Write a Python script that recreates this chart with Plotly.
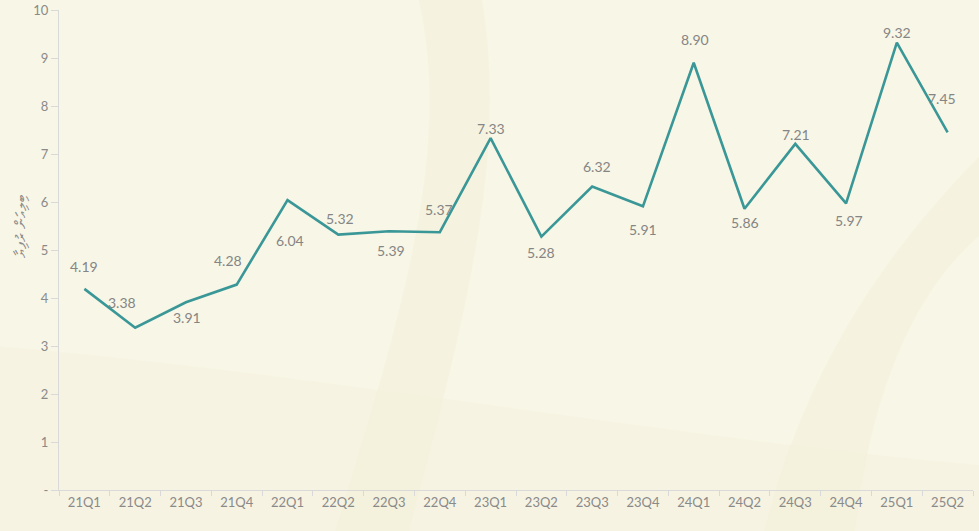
import plotly.graph_objects as go

quarters = ["21Q1", "21Q2", "21Q3", "21Q4", "22Q1", "22Q2", "22Q3", "22Q4", "23Q1",
            "23Q2", "23Q3", "23Q4", "24Q1", "24Q2", "24Q3", "24Q4", "25Q1", "25Q2"]
values = [4.19, 3.38, 3.91, 4.28, 6.04, 5.32, 5.39, 5.37, 7.33,
          5.28, 6.32, 5.91, 8.90, 5.86, 7.21, 5.97, 9.32, 7.45]
y_tick_vals = [0, 1, 2, 3, 4, 5, 6, 7, 8, 9, 10]
y_tick_text = ["-", "1", "2", "3", "4", "5", "6", "7", "8", "9", "10"]
y_title = "ބިލިއަން ރުފިޔާ"

# label offsets in pixels (style only)
label_dx = [0, -13, 1, -9, 2, 2, 2, -1, 0, 0, 5, 0, 1, 0, 1, 3, 0, -6]
label_dy = [22, 25, -15, 24, -40, 16, -19, 23, 10, -16, 20, -23, 23, -14, 9, -17, 10, 34]

BG = "#f8f6e6"
fig = go.Figure()

fig.add_trace(go.Scatter(
    x=quarters, y=values, mode="lines",
    line=dict(color="#3a9797", width=2.6),
    hoverinfo="x+y", showlegend=False,
))

for q, v, dx, dy in zip(quarters, values, label_dx, label_dy):
    fig.add_annotation(x=q, y=v, text=f"{v:.2f}", showarrow=False,
                       xshift=dx, yshift=dy,
                       font=dict(family="Lato, Open Sans, sans-serif", size=14, color="#858585"))

fig.add_annotation(xref="paper", yref="paper", x=-0.043, y=0.55, text=y_title,
                   xanchor="center", yanchor="middle",
                   textangle=-90, showarrow=False,
                   font=dict(size=15, color="#8a8a8a"))

# faint decorative background swooshes
shapes = [
    dict(type="path", xref="paper", yref="paper", layer="below",
         path="M 0.39 1.05 C 0.43 0.75, 0.39 0.45, 0.30 -0.10 L 0.38 -0.10 C 0.46 0.45, 0.49 0.75, 0.46 1.05 Z",
         fillcolor="rgba(236,232,200,0.22)", line=dict(width=0)),
    dict(type="path", xref="paper", yref="paper", layer="below",
         path="M 0.77 -0.10 C 0.82 0.30, 0.93 0.55, 1.02 0.72 L 1.02 0.55 C 0.95 0.45, 0.89 0.25, 0.87 -0.10 Z",
         fillcolor="rgba(236,232,200,0.22)", line=dict(width=0)),
    dict(type="path", xref="paper", yref="paper", layer="below",
         path="M -0.07 0.30 C 0.30 0.24, 0.70 0.10, 1.02 0.05 L 1.02 -0.10 L -0.07 -0.10 Z",
         fillcolor="rgba(240,237,212,0.20)", line=dict(width=0)),
]

fig.update_layout(
    width=979, height=531,
    paper_bgcolor=BG, plot_bgcolor="rgba(0,0,0,0)",
    margin=dict(l=59, r=6, t=10, b=41, autoexpand=False),
    font=dict(family="Lato, Open Sans, sans-serif", size=12, color="#8a8a8a"),
    shapes=shapes,
    xaxis=dict(
        type="category", showgrid=False, zeroline=False, automargin=False,
        showline=True, linecolor="#d9d9d9", linewidth=1,
        ticks="outside", tickson="boundaries", ticklen=5, tickcolor="#d9d9d9",
        tickfont=dict(size=13, color="#8a8a8a"),
        range=[-0.5, len(quarters) - 0.5],
    ),
    yaxis=dict(
        range=[0, 10], showgrid=False, zeroline=False, automargin=False,
        showline=True, linecolor="#d9d9d9", linewidth=1,
        ticks="outside", ticklen=7, tickcolor="#d9d9d9",
        tickvals=y_tick_vals, ticktext=y_tick_text,
        tickfont=dict(size=13, color="#8a8a8a"),
    ),
)

fig.write_html("out.html", config={"displayModeBar": False},
               post_script="document.body.style.margin='0';document.body.style.background='" + BG + "';")
